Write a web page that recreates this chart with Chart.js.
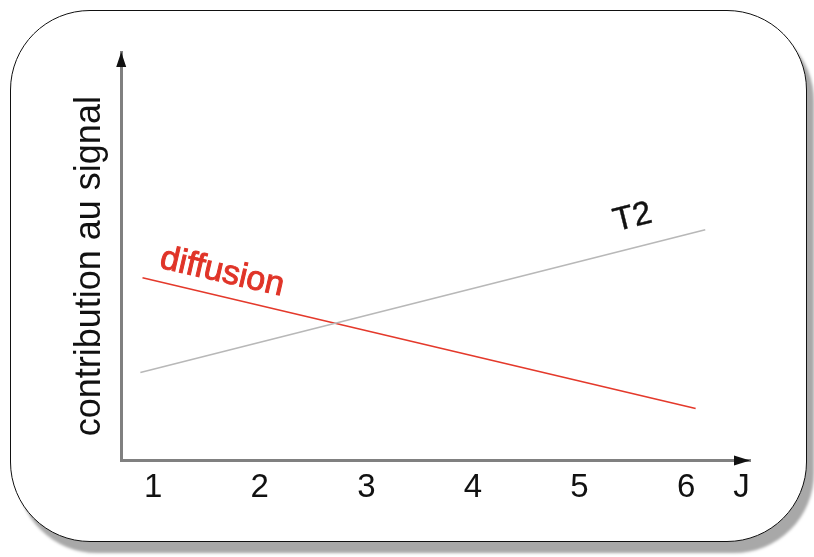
<!DOCTYPE html>
<html>
<head>
<meta charset="utf-8">
<script src="https://cdn.jsdelivr.net/npm/chart.js@4/dist/chart.umd.min.js"></script>
<style>
  html, body { margin: 0; padding: 0; background: #fff; }
  #wrap { position: relative; width: 814px; height: 557px; overflow: hidden; }
  #box {
    position: absolute; left: 10px; top: 10px; width: 795px; height: 530px;
    border: 1.5px solid #111; border-radius: 80px; background: #fff;
    box-shadow: 7px 11px 3px #a8a8a8;
  }
  #c { position: absolute; left: 0; top: 0; }
</style>
</head>
<body>
<div id="wrap">
  <div id="box"></div>
  <canvas id="c" width="814" height="557"></canvas>
</div>
<script>
// ---- data ----
const xTickValues = [1, 2, 3, 4, 5, 6, 6.52];
const xTickLabels = ['1', '2', '3', '4', '5', '6', 'J'];
const yAxisLabel = 'contribution au signal';

const t2Name = 'T2';
const t2X = [0.88, 6.18];
const t2Y = [2.15, 5.65];

const diffName = 'diffusion';
const diffX = [0.90, 6.09];
const diffY = [4.47, 1.27];

const FONT = "'Liberation Sans', Arial, Helvetica, sans-serif";

const toPts = (xs, ys) => xs.map((x, i) => ({ x: x, y: ys[i] }));

const decorPlugin = {
  id: 'decor',
  afterDraw(chart, args, opts) {
    const ctx = chart.ctx;
    const a = chart.chartArea;
    const xs = chart.scales.x, ys = chart.scales.y;
    ctx.save();
    // arrow heads
    ctx.fillStyle = '#111';
    ctx.beginPath();
    ctx.moveTo(a.left, a.top);
    ctx.lineTo(a.left - 5, a.top + 15);
    ctx.lineTo(a.left + 5, a.top + 15);
    ctx.closePath();
    ctx.fill();
    ctx.beginPath();
    ctx.moveTo(a.right, a.bottom);
    ctx.lineTo(a.right - 16, a.bottom - 5);
    ctx.lineTo(a.right - 16, a.bottom + 5);
    ctx.closePath();
    ctx.fill();
    // line labels
    opts.labels.forEach(l => {
      const px = xs.getPixelForValue(l.x);
      const py = ys.getPixelForValue(l.y);
      ctx.save();
      ctx.translate(px, py);
      ctx.rotate(l.angle * Math.PI / 180);
      ctx.font = l.font;
      ctx.fillStyle = l.color;
      ctx.textAlign = 'center';
      ctx.textBaseline = 'middle';
      ctx.fillText(l.text, 0, 0);
      if (l.stroke) {
        ctx.strokeStyle = l.color;
        ctx.lineWidth = l.stroke;
        ctx.strokeText(l.text, 0, 0);
      }
      ctx.restore();
    });
    ctx.restore();
  }
};

new Chart(document.getElementById('c'), {
  type: 'line',
  data: {
    datasets: [
      {
        label: t2Name,
        data: toPts(t2X, t2Y),
        borderColor: '#b8b8b8',
        borderWidth: 1.6,
        pointRadius: 0,
        tension: 0
      },
      {
        label: diffName,
        data: toPts(diffX, diffY),
        borderColor: '#e4392b',
        borderWidth: 1.6,
        pointRadius: 0,
        tension: 0
      }
    ]
  },
  options: {
    responsive: false,
    animation: false,
    events: [],
    layout: { padding: { left: 0, right: 64, top: 52, bottom: 41 } },
    plugins: {
      legend: { display: false },
      tooltip: { enabled: false },
      decor: {
        labels: [
          { text: t2Name, x: 5.50, y: 5.94, angle: -14, color: '#111', font: '33px ' + FONT, stroke: 0.4 },
          { text: diffName, x: 1.647, y: 4.60, angle: 13, color: '#e03428', font: '34px ' + FONT, stroke: 1 }
        ]
      }
    },
    scales: {
      x: {
        type: 'linear',
        min: 0.7,
        max: 6.6,
        grid: { display: false, drawTicks: false },
        border: { display: true, color: '#808080', width: 3 },
        afterBuildTicks: axis => { axis.ticks = xTickValues.map(v => ({ value: v })); },
        ticks: {
          autoSkip: false,
          maxRotation: 0,
          padding: 8,
          color: '#111',
          font: { family: FONT, size: 33 },
          callback: (v) => { const i = xTickValues.indexOf(v); return i >= 0 ? xTickLabels[i] : ''; }
        }
      },
      y: {
        type: 'linear',
        min: 0,
        max: 10,
        grid: { display: false, drawTicks: false },
        border: { display: true, color: '#808080', width: 3 },
        ticks: { display: false },
        title: {
          display: true,
          text: yAxisLabel + '\u00a0\u00a0',
          color: '#111',
          font: { family: FONT, size: 36 },
          padding: { top: 68, bottom: 10 }
        }
      }
    }
  },
  plugins: [decorPlugin]
});
</script>
</body>
</html>
